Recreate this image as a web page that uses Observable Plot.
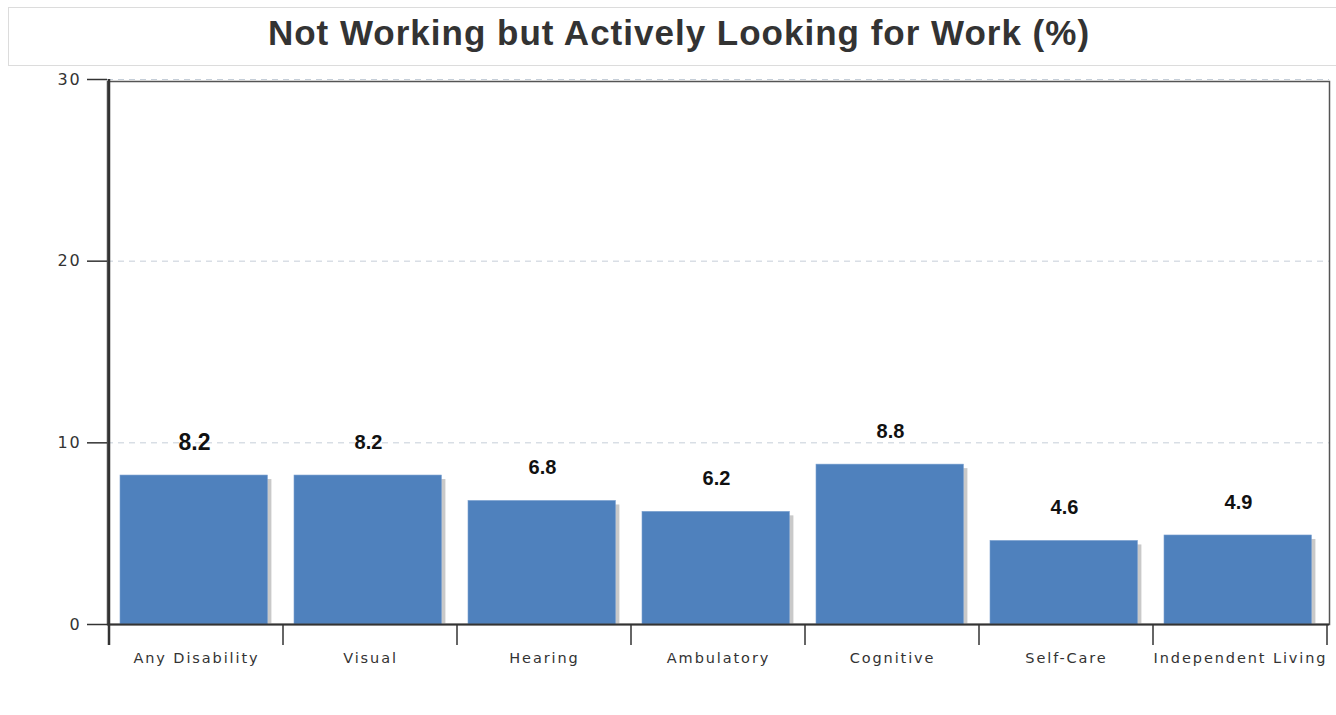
<!DOCTYPE html>
<html>
<head>
<meta charset="utf-8">
<script src="https://cdn.jsdelivr.net/npm/d3@7"></script>
<script src="https://cdn.jsdelivr.net/npm/@observablehq/plot@0.6"></script>
<style>
  html, body { margin: 0; padding: 0; background: #fff; overflow: hidden; width: 1336px; height: 715px; }
  #title {
    position: absolute; left: 8px; top: 7px; width: 1340px; height: 57px;
    border: 1px solid #dcdcdc; box-sizing: content-box;
    font-family: "Liberation Sans", Arial, sans-serif; font-weight: bold;
    font-size: 35px; letter-spacing: 1px; color: #333; text-align: center; line-height: 50px;
  }
  #chart { position: absolute; left: 0; top: 66px; }
  #chart g[aria-label="x-axis tick label"] text { letter-spacing: 1.9px; }
  #chart g[aria-label="y-axis tick label"] text { letter-spacing: 1.8px; }
</style>
</head>
<body>
<div id="title">Not Working but Actively Looking for Work (%)</div>
<div id="chart"></div>
<script>
const categories = ["Any Disability", "Visual", "Hearing", "Ambulatory", "Cognitive", "Self-Care", "Independent Living"];
const values = [8.2, 8.2, 6.8, 6.2, 8.8, 4.6, 4.9];
const yTicks = [0, 10, 20, 30];

const data = categories.map((c, i) => ({category: c, value: values[i]}));

const W = 1336, H = 649;
const marginLeft = 107, marginRight = 7, marginTop = 13, marginBottom = 91;

const chart = Plot.plot({
  width: W,
  height: H,
  marginLeft, marginRight, marginTop, marginBottom,
  style: {fontFamily: "Liberation Sans, Arial, sans-serif", color: "#333", background: "#fff"},
  x: {domain: categories, padding: 0, label: null},
  y: {domain: [0, 30], label: null},
  marks: [
    Plot.gridY(yTicks.slice(1), {stroke: "#c5ced8", strokeOpacity: 1, strokeDasharray: "6,5"}),
    Plot.frame({stroke: "#555", strokeWidth: 1.5, insetTop: 2}),
    Plot.barY(data, {x: "category", y: "value", fill: "#c9c9c9", insetLeft: 11, insetRight: 15.6, dx: 4, insetTop: 4}),
    Plot.barY(data, {x: "category", y: "value", fill: "#4f81bd", stroke: "#7aa0cf", strokeWidth: 0.6, insetLeft: 11, insetRight: 15.6}),
    Plot.text(data, {
      x: "category", y: "value", text: d => d.value.toFixed(1),
      dy: -33, dx: -2, fontWeight: "bold", fill: "#111",
      fontFamily: "Liberation Sans, Arial, sans-serif",
      fontSize: (d, i) => i === 0 ? 23 : 20
    }),
    Plot.ruleY([0], {stroke: "#333", strokeWidth: 2}),
    Plot.axisY(yTicks, {tickSize: 20, tickPadding: 6, fontSize: 16, fontFamily: "DejaVu Sans, sans-serif", stroke: "#333", strokeWidth: 1.5, label: null}),
    Plot.axisX({tickSize: 0, tickPadding: 28, fontSize: 14.5, fontFamily: "DejaVu Sans, sans-serif", label: null})
  ]
});

// Boundary ticks and left axis line, positioned from Plot's x scale
const xs = chart.scale("x");
const ys = chart.scale("y");
const svg = d3.select(chart);
const bounds = categories.map(c => xs.apply(c)).concat([xs.apply(categories[categories.length - 1]) + xs.bandwidth]);
const y0 = ys.apply(0);
const yTop = ys.apply(30);
svg.append("g").selectAll("line").data(bounds).join("line")
  .attr("x1", d => d).attr("x2", d => d)
  .attr("y1", y0).attr("y2", y0 + 21)
  .attr("stroke", "#333").attr("stroke-width", 1.5);
svg.append("line")
  .attr("x1", bounds[0]).attr("x2", bounds[0])
  .attr("y1", yTop).attr("y2", y0 + 21)
  .attr("stroke", "#333").attr("stroke-width", 2.5);

document.getElementById("chart").appendChild(chart);
</script>
</body>
</html>
